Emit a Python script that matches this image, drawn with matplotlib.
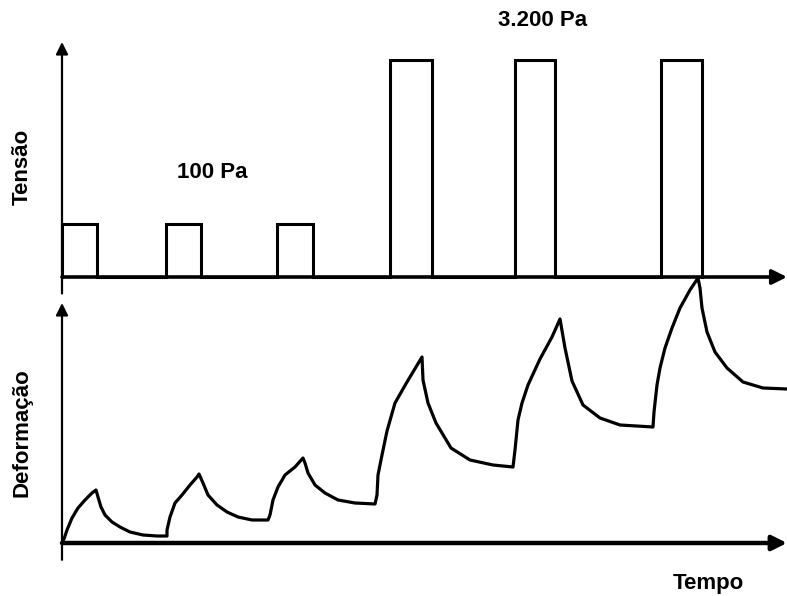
import matplotlib
matplotlib.use("Agg")

import matplotlib.pyplot as plt

plt.rcParams["font.family"] = ["Liberation Sans", "DejaVu Sans"]

# stress pulses (start, end, level) - arbitrary units
pulse_start = [0, 104, 215, 328, 453, 599]
pulse_end = [35, 139, 251, 370, 493, 640]
pulse_level = [1.0, 1.0, 1.0, 4.1, 4.1, 4.1]

# deformation curve (creep / recovery cycles)
tempo = [0, 2, 5, 10, 16, 23, 30, 34,
         36, 39, 43, 50, 58, 68, 81, 95, 105,
         105, 108, 113, 120, 128, 135, 137,
         141, 146, 155, 165, 176, 190, 206,
         208, 211, 216, 223, 233, 241,
         243, 246, 253, 263, 276, 293, 313,
         315, 316, 320, 325, 333, 345, 360,
         361, 366, 374, 389, 408, 431, 451,
         453, 456, 460, 466, 478, 490, 498,
         503, 510, 521, 538, 558, 591,
         592, 595, 598, 603, 610, 618, 628, 636,
         638, 640, 645, 653, 665, 681, 701, 725]
deformacao = [0, 4, 13, 25, 35, 43, 50, 53,
              46, 36, 28, 21, 16, 11, 8, 7, 7,
              13, 26, 40, 48, 58, 66, 69,
              60, 48, 38, 31, 26, 23, 23,
              28, 43, 56, 68, 76, 85,
              80, 70, 58, 50, 43, 40, 39,
              48, 68, 88, 112, 140, 161, 186,
              163, 140, 120, 95, 83, 78, 76,
              93, 123, 140, 158, 184, 206, 224,
              195, 162, 138, 125, 118, 116,
              131, 158, 175, 195, 215, 235, 253, 265,
              255, 235, 211, 191, 175, 161, 155, 154]

W, H = 787, 596
fig = plt.figure(figsize=(W / 100, H / 100), dpi=100)


def rect(x0, y0, x1, y1):
    return [x0 / W, 1 - y1 / H, (x1 - x0) / W, (y1 - y0) / H]


ax1 = fig.add_axes(rect(62, 42, 787, 277))
ax2 = fig.add_axes(rect(62, 303, 787, 543))

# step signal from the pulses
st_x, st_y = [], []
for a, b, lv in zip(pulse_start, pulse_end, pulse_level):
    st_x += [a, a, b, b]
    st_y += [0, lv, lv, 0]
ax1.plot(st_x, st_y, color="black", lw=2.2, solid_joinstyle="miter", clip_on=False)
ax1.set_xlim(0, 725)
ax1.set_ylim(0, 4.43)

ax2.plot(tempo, deformacao, color="black", lw=2.3, solid_joinstyle="round",
         clip_on=False)
ax2.set_xlim(0, 725)
ax2.set_ylim(0, 240)

for ax, lw_x in [(ax1, 2.6), (ax2, 3.2)]:
    ax.axis("off")
    ax.annotate("", xy=(1.0, 0), xytext=(0, 0), xycoords="axes fraction",
                arrowprops=dict(arrowstyle="-|>", lw=lw_x, color="black",
                                mutation_scale=22, shrinkA=0, shrinkB=0))
    ax.annotate("", xy=(0, 1.0), xytext=(0, -0.07), xycoords="axes fraction",
                arrowprops=dict(arrowstyle="-|>", lw=1.6, color="black",
                                mutation_scale=18, shrinkA=0, shrinkB=0))

fs = 16
fig.text(22 / W, 1 - 167 / H, "Tensão", rotation=90, ha="center", va="center",
         fontsize=fs, fontweight="bold")
fig.text(22 / W, 1 - 433 / H, "Deformação", rotation=90, ha="center", va="center",
         fontsize=fs, fontweight="bold")
fig.text(212 / W, 1 - 172 / H, "100 Pa", ha="center", va="center",
         fontsize=fs, fontweight="bold")
fig.text(543 / W, 1 - 20 / H, "3.200 Pa", ha="center", va="center",
         fontsize=fs, fontweight="bold")
fig.text(708 / W, 1 - 583 / H, "Tempo", ha="center", va="center",
         fontsize=fs, fontweight="bold")

fig.savefig("out.png", dpi=100)
